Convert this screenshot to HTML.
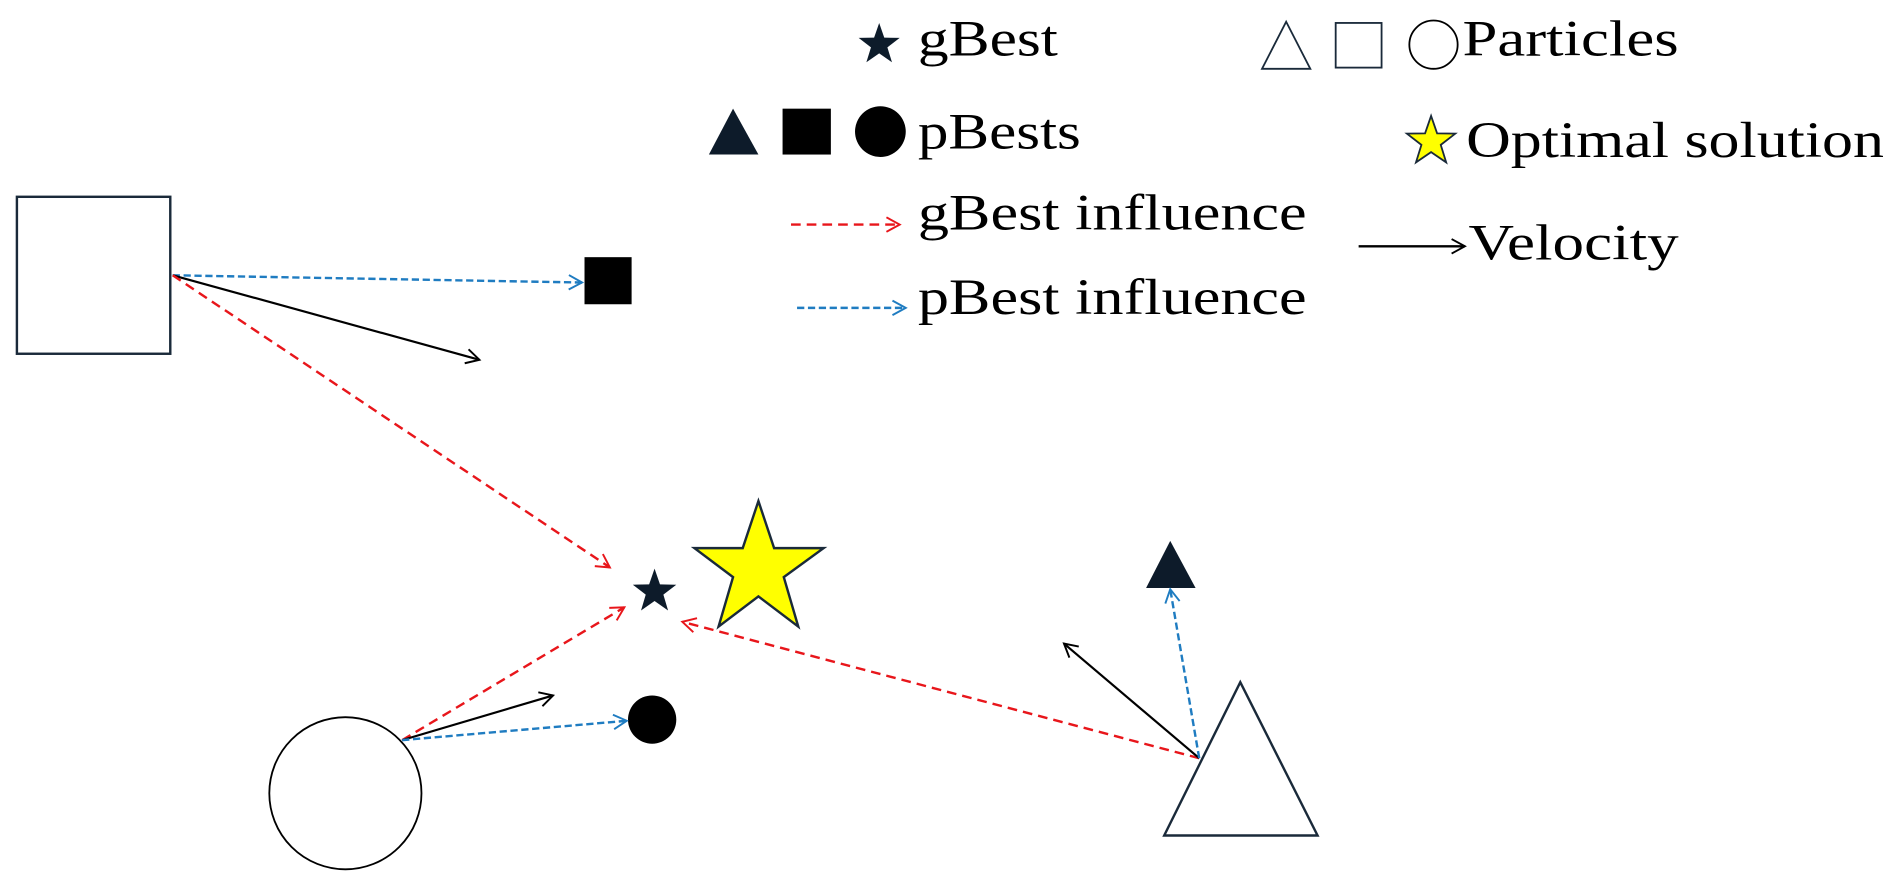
<!DOCTYPE html>
<html><head><meta charset="utf-8"><style>html,body{margin:0;padding:0;background:#fff;overflow:hidden}svg{display:block}</style></head>
<body>
<svg width="1890" height="885" viewBox="0 0 1565 733" preserveAspectRatio="none" xmlns="http://www.w3.org/2000/svg" font-family="'Liberation Serif', serif" font-size="42">
<defs>
<marker id="ab" markerWidth="14" markerHeight="14" refX="12" refY="7" orient="auto" markerUnits="userSpaceOnUse"><path d="M1,1 L12,7 L1,13" fill="none" stroke="#000" stroke-width="1.6"/></marker>
<marker id="ar" markerWidth="14" markerHeight="14" refX="12" refY="7" orient="auto" markerUnits="userSpaceOnUse"><path d="M1,1 L12,7 L1,13" fill="none" stroke="#e8161b" stroke-width="1.6"/></marker>
<marker id="abl" markerWidth="14" markerHeight="14" refX="12" refY="7" orient="auto" markerUnits="userSpaceOnUse"><path d="M1,1 L12,7 L1,13" fill="none" stroke="#1f7cc1" stroke-width="1.6"/></marker>
</defs>
<!-- legend -->
<polygon points="728,19 732.2,31.2 745,31.4 734.8,39.2 738.6,51.6 728,44.2 717.4,51.6 721.2,39.2 711,31.4 723.8,31.2" fill="#0d1b2a"/>
<text x="760" y="46" textLength="116" lengthAdjust="spacingAndGlyphs">gBest</text>
<polygon points="1065,18 1085,57 1045,57" fill="none" stroke="#1a2a3a" stroke-width="1.5"/>
<rect x="1106" y="19" width="38" height="37" fill="none" stroke="#1a2a3a" stroke-width="1.5"/>
<circle cx="1187" cy="37" r="20" fill="none" stroke="#000" stroke-width="1.5"/>
<text x="1211" y="46" textLength="179" lengthAdjust="spacingAndGlyphs">Particles</text>
<polygon points="607,90 628,128 587,128" fill="#0d1b2a"/>
<rect x="648" y="90" width="40" height="38" fill="#000"/>
<circle cx="729" cy="109" r="21" fill="#000"/>
<text x="760" y="123" textLength="135" lengthAdjust="spacingAndGlyphs">pBests</text>
<polygon points="1185,96 1190,110.5 1205,110.7 1193,120 1197.5,134.5 1185,126 1172.5,134.5 1177,120 1165,110.7 1180,110.5" fill="#ffff00" stroke="#1a2a3a" stroke-width="1.5"/>
<text x="1214" y="130" textLength="346" lengthAdjust="spacingAndGlyphs">Optimal solution</text>
<line x1="655" y1="186" x2="745" y2="186" stroke="#e8161b" stroke-width="2" stroke-dasharray="8,5" marker-end="url(#ar)"/>
<text x="760" y="190" textLength="322" lengthAdjust="spacingAndGlyphs">gBest influence</text>
<line x1="1125" y1="204" x2="1213" y2="204" stroke="#000" stroke-width="2" marker-end="url(#ab)"/>
<text x="1216" y="215" textLength="174" lengthAdjust="spacingAndGlyphs">Velocity</text>
<line x1="660" y1="255" x2="750" y2="255" stroke="#1f7cc1" stroke-width="2" stroke-dasharray="6,3" marker-end="url(#abl)"/>
<text x="760" y="260" textLength="322" lengthAdjust="spacingAndGlyphs">pBest influence</text>
<!-- main shapes -->
<rect x="14" y="163" width="127" height="130" fill="none" stroke="#1a2a3a" stroke-width="2"/>
<rect x="484" y="213" width="39" height="39" fill="#000"/>
<circle cx="286" cy="657" r="63" fill="none" stroke="#000" stroke-width="1.5"/>
<circle cx="540" cy="596" r="20" fill="#000"/>
<polygon points="1027,565 1091,692 964,692" fill="none" stroke="#1a2a3a" stroke-width="2"/>
<polygon points="969,448 990,487 949,487" fill="#0d1b2a"/>
<polygon points="542,471 546.5,484 560,484.3 549.3,492.5 553.2,505.6 542,497.8 530.8,505.6 534.7,492.5 524,484.3 537.5,484" fill="#0d1b2a"/>
<polygon points="628,415 641,454 682,454 649,478 661,519 628,494 595,519 607,478 575,454 615,454" fill="#ffff00" stroke="#1a2a3a" stroke-width="2"/>
<!-- connectors -->
<line x1="143" y1="228" x2="482" y2="234" stroke="#1f7cc1" stroke-width="2" stroke-dasharray="6,3" marker-end="url(#abl)"/>
<line x1="143" y1="228" x2="397" y2="298" stroke="#000" stroke-width="1.8" marker-end="url(#ab)"/>
<line x1="143" y1="228" x2="505" y2="470" stroke="#e8161b" stroke-width="2" stroke-dasharray="8,5" marker-end="url(#ar)"/>
<line x1="333" y1="613" x2="517" y2="503" stroke="#e8161b" stroke-width="2" stroke-dasharray="8,5" marker-end="url(#ar)"/>
<line x1="333" y1="613" x2="458" y2="576" stroke="#000" stroke-width="1.8" marker-end="url(#ab)"/>
<line x1="333" y1="613" x2="519" y2="597" stroke="#1f7cc1" stroke-width="2" stroke-dasharray="6,3" marker-end="url(#abl)"/>
<line x1="993" y1="628" x2="565" y2="515" stroke="#e8161b" stroke-width="2" stroke-dasharray="8,5" marker-end="url(#ar)"/>
<line x1="993" y1="628" x2="881" y2="533" stroke="#000" stroke-width="1.8" marker-end="url(#ab)"/>
<line x1="993" y1="628" x2="969" y2="488" stroke="#1f7cc1" stroke-width="2" stroke-dasharray="6,3" marker-end="url(#abl)"/>
</svg>
</body></html>
